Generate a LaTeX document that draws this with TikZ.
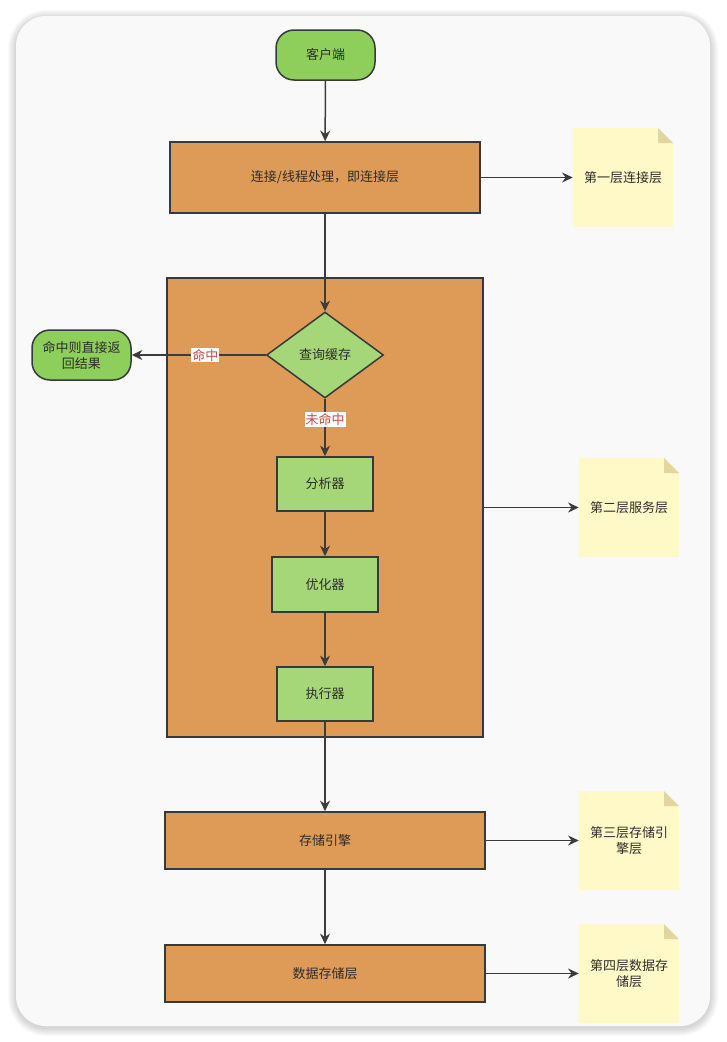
\documentclass[tikz,border=0pt]{standalone}
\usepackage{fontspec}
\setmainfont{Noto Sans CJK SC}
\usetikzlibrary{arrows.meta,shapes.geometric}

\newlength\px
\setlength\px{0.75pt}

\definecolor{pagebg}{RGB}{249,249,249}
\definecolor{linegray}{RGB}{54,57,61}
\definecolor{edgegray}{RGB}{60,60,60}
\definecolor{textgray}{RGB}{45,45,45}
\definecolor{pillgreen}{RGB}{141,207,90}
\definecolor{stagegreen}{RGB}{165,215,120}
\definecolor{boxorange}{RGB}{222,155,87}
\definecolor{notebg}{RGB}{255,249,199}
\definecolor{notefold}{RGB}{226,214,160}
\definecolor{hitred}{RGB}{200,72,72}

\begin{document}
\begin{tikzpicture}[x=0.75pt, y=-0.75pt,
    every node/.style={font=\fontsize{9.75}{12}\selectfont, text=textgray},
    pill/.style={draw=linegray, line width=1.5\px, fill=pillgreen, rounded corners=18\px,
        minimum width=99\px, minimum height=50\px, align=center},
    layer/.style={draw=linegray, line width=1.5\px, fill=boxorange, minimum height=57\px},
    stage/.style={draw=linegray, line width=1.5\px, fill=stagegreen, minimum height=54\px},
    cache/.style={diamond, draw=linegray, line width=1.5\px, fill=stagegreen, aspect=1.36,
        minimum width=117\px, minimum height=86\px, inner sep=0pt},
    note/.style={fill=notebg, minimum width=100\px, minimum height=99\px, align=center,
        path picture={
            \fill[pagebg] (path picture bounding box.north east) -- ++(-15\px,0pt) -- ++(15\px,-15\px) -- cycle;
            \fill[notefold] (path picture bounding box.north east) ++(-15\px,0pt) -- ++(0pt,-15\px) -- ++(15\px,0pt) -- cycle;
        }},
    flow/.style={draw=edgegray, line width=1.5\px, -{Stealth[length=8pt, width=7.5pt]}},
    hit/.style={fill=white, text=hitred, inner sep=1\px}
]
    % Page with soft shadow
    \fill[white] (0,0) rectangle (726,1042);
    \foreach \s in {1,...,8}
        \fill[black, opacity=0.018, rounded corners={(30+\s)*0.75pt}] (16-\s,16-\s+2) rectangle (710+\s,1026+\s+2);
    \fill[pagebg, rounded corners=30\px] (16,16) rectangle (710,1026);

    % Client and connection layer
    \node[pill] (client) at (325.5,55) {客户端};
    \node[layer, minimum width=310\px, minimum height=71\px] (conn) at (325,177.5) {连接/线程处理，即连接层};
    \node[note] (note1) at (623,177.5) {第一层连接层};

    % Service layer
    \node[draw=linegray, line width=1.5\px, fill=boxorange, minimum width=316\px, minimum height=459\px] (svc) at (325,507.5) {};
    \node[cache] (cache) at (325,355) {查询缓存};
    \node[pill] (ret) at (81.5,355) {命中则直接返\\回结果};
    \node[stage, minimum width=96\px] (parser) at (325,484) {分析器};
    \node[stage, minimum width=106\px, minimum height=55\px] (optimizer) at (325,584.5) {优化器};
    \node[stage, minimum width=96\px] (executor) at (325,694) {执行器};
    \node[note] (note2) at (629,507.5) {第二层服务层};

    % Storage engine and data layer
    \node[layer, minimum width=320\px] (engine) at (325,840.5) {存储引擎};
    \node[note] (note3) at (629,840.5) {第三层存储引\\擎层};
    \node[layer, minimum width=320\px] (storage) at (325,973.5) {数据存储层};
    \node[note] (note4) at (629,973.5) {第四层数据存\\储层};

    % Main flow
    \draw[flow] (client) -- (conn);
    \draw[flow] (conn) -- (cache);
    \draw[flow] (cache) -- node[hit, pos=0.45] {命中} (ret);
    \draw[flow] (cache) -- node[hit, pos=0.36] {未命中} (parser);
    \draw[flow] (parser) -- (optimizer);
    \draw[flow] (optimizer) -- (executor);
    \draw[flow] (executor) -- (engine);
    \draw[flow] (engine) -- (storage);

    % Layer notes
    \draw[flow] (conn) -- (note1);
    \draw[flow] (svc) -- (note2);
    \draw[flow] (engine) -- (note3);
    \draw[flow] (storage) -- (note4);
\end{tikzpicture}
\end{document}
